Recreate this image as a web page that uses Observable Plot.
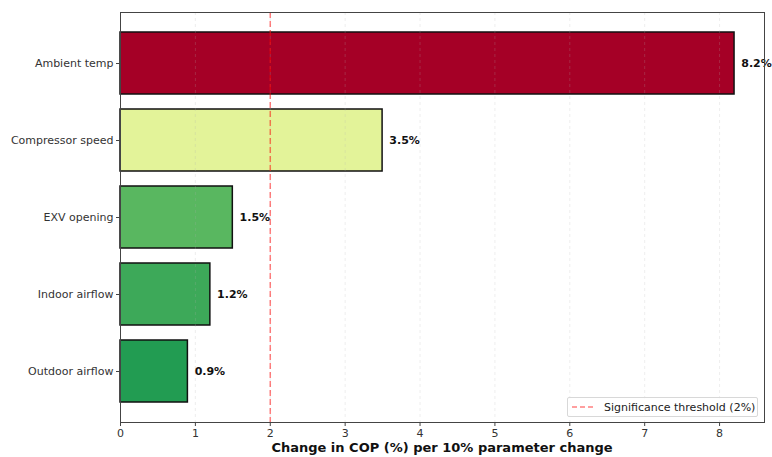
<!DOCTYPE html>
<html>
<head>
<meta charset="utf-8">
<script src="https://cdn.jsdelivr.net/npm/d3@7"></script>
<script src="https://cdn.jsdelivr.net/npm/@observablehq/plot@0.6"></script>
<style>
  body { margin: 0; background: #fff; }
  #wrap { position: relative; width: 772px; height: 457px; font-family: "DejaVu Sans", sans-serif; }
  #legend { position: absolute; left: 567px; top: 397px; width: 191px; height: 20px; box-sizing: border-box;
    border: 1px solid #d8d8d8; border-radius: 2px; background: rgba(255,255,255,0.8);
    font-size: 11px; color: #222; display: flex; align-items: center; }
  #legend svg { margin: 0 8px 0 4px; }
</style>
</head>
<body>
<div id="wrap"></div>
<script>
const parameters = ["Ambient temp", "Compressor speed", "EXV opening", "Indoor airflow", "Outdoor airflow"];
const copChange = [8.2, 3.5, 1.5, 1.2, 0.9];
const barColors = ["#a50026", "#e3f399", "#59b760", "#3da959", "#229c52"];
const threshold = [2];
const xTicks = [0, 1, 2, 3, 4, 5, 6, 7, 8];

const data = parameters.map((p, i) => ({param: p, value: copChange[i], color: barColors[i]}));

const chart = Plot.plot({
  width: 772,
  height: 457,
  marginLeft: 120,
  marginRight: 8,
  marginTop: 12,
  marginBottom: 35,
  style: {fontFamily: "DejaVu Sans, sans-serif", fontSize: "11px", color: "#222", background: "#fff"},
  x: {domain: [0, 8.6], ticks: xTicks, tickSize: 4, tickPadding: 3, label: null},
  y: {domain: parameters, paddingInner: 0.2, paddingOuter: 0.245, tickSize: 4, tickPadding: 3, label: null},
  marks: [
    Plot.barX(data, {y: "param", x: "value", fill: "color", stroke: "#111", strokeWidth: 1.5}),
    Plot.gridX(xTicks, {stroke: "#b0b0b0", strokeOpacity: 0.22, strokeDasharray: "3,3"}),
    Plot.ruleX(threshold, {stroke: "red", strokeOpacity: 0.5, strokeWidth: 1.5, strokeDasharray: "6,3"}),
    Plot.text(data, {y: "param", x: d => d.value + 0.09, text: d => d.value.toFixed(1) + "%",
      textAnchor: "start", fontWeight: "bold", fontSize: 11, fill: "#111"}),
    Plot.frame({stroke: "#444"}),
    Plot.axisX({ticks: xTicks, tickSize: 4, tickPadding: 3, label: null, stroke: "#444", fill: "#333", fontSize: 11}),
    Plot.axisY({tickSize: 4, tickPadding: 3, label: null, stroke: "#444", fill: "#333", fontSize: 11})
  ]
});

const wrap = document.getElementById("wrap");
wrap.appendChild(chart);

// x axis title
const svg = d3.select(chart);
svg.append("text")
  .attr("x", 442).attr("y", 452)
  .attr("text-anchor", "middle")
  .attr("font-weight", "bold")
  .attr("font-size", 13)
  .attr("fill", "#111")
  .text("Change in COP (%) per 10% parameter change");

// legend
const legend = document.createElement("div");
legend.id = "legend";
legend.innerHTML = '<svg width="24" height="4"><line x1="0" y1="2" x2="24" y2="2" stroke="red" stroke-opacity="0.5" stroke-width="1.5" stroke-dasharray="5,3"/></svg><span>Significance threshold (2%)</span>';
wrap.appendChild(legend);
</script>
</body>
</html>
